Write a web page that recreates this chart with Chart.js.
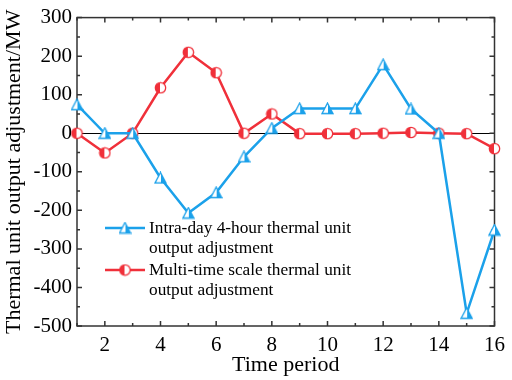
<!DOCTYPE html>
<html lang="en">
<head>
<meta charset="UTF-8">
<title>Thermal unit output adjustment</title>
<script src="https://cdn.jsdelivr.net/npm/chart.js"></script>
<style>
  html, body { margin: 0; padding: 0; background: #fff; }
  #wrap { width: 512px; height: 380px; }
</style>
</head>
<body>
<div id="wrap"><canvas id="chart" width="512" height="380"></canvas></div>
<script>
// data
const periods = [1, 2, 3, 4, 5, 6, 7, 8, 9, 10, 11, 12, 13, 14, 15, 16];
const intraDay = [74, 0, 0, -116, -207, -154, -61, 13, 64, 64, 64, 178, 63, 0, -467, -251];
const multiScale = [0, -51, 0, 118, 210, 157, 0, 50, -1, -1, -1, 0, 2, 0, -1, -40];
const seriesNames = [
  ["Intra-day 4-hour thermal unit", "output adjustment"],
  ["Multi-time scale thermal unit", "output adjustment"]
];
const xTicks = [2, 4, 6, 8, 10, 12, 14, 16];
const yTicks = [-500, -400, -300, -200, -100, 0, 100, 200, 300];

const BLUE = "#1ba1ea";
const RED = "#f0303a";
const FONT = "'Liberation Serif', 'Times New Roman', serif";

// half filled markers (triangle: right half, circle: left half)
function makeMarker(shape, color) {
  const c = document.createElement("canvas");
  c.width = 13; c.height = 13;
  const g = c.getContext("2d");
  g.beginPath();
  if (shape === "tri") {
    g.moveTo(6.5, 1); g.lineTo(12, 11.5); g.lineTo(1, 11.5); g.closePath();
  } else {
    g.arc(6.5, 6.5, 5.2, 0, Math.PI * 2);
  }
  g.fillStyle = "#fff";
  g.fill();
  g.save();
  g.clip();
  g.fillStyle = color;
  if (shape === "tri") g.fillRect(7, 0, 7, 13);
  else g.fillRect(0, 0, 6, 13);
  g.restore();
  g.lineWidth = 1.3;
  g.strokeStyle = color;
  g.stroke();
  return c;
}
const triMarker = makeMarker("tri", BLUE);
const dotMarker = makeMarker("dot", RED);

// frame, inward ticks, zero line, legend
const framePlugin = {
  id: "frame",
  beforeDatasetsDraw(chart) {
    const { ctx, chartArea: a, scales: { x, y } } = chart;
    ctx.save();
    ctx.strokeStyle = "#000";
    ctx.lineWidth = 1;
    const y0 = Math.round(y.getPixelForValue(0)) + 0.5;
    ctx.beginPath();
    ctx.moveTo(a.left, y0); ctx.lineTo(a.right, y0);
    ctx.stroke();

    ctx.strokeStyle = "#333";
    ctx.lineWidth = 1.5;
    ctx.strokeRect(a.left, a.top, a.right - a.left, a.bottom - a.top);
    ctx.beginPath();
    for (let v = 1; v <= 16; v++) {
      const px = x.getPixelForValue(v);
      const len = v % 2 === 0 ? 5 : 3;
      ctx.moveTo(px, a.bottom); ctx.lineTo(px, a.bottom - len);
      ctx.moveTo(px, a.top); ctx.lineTo(px, a.top + len);
    }
    for (let v = -500; v <= 300; v += 50) {
      const py = y.getPixelForValue(v);
      const len = v % 100 === 0 ? 5 : 3;
      ctx.moveTo(a.left, py); ctx.lineTo(a.left + len, py);
      ctx.moveTo(a.right, py); ctx.lineTo(a.right - len, py);
    }
    ctx.stroke();
    ctx.restore();
  },
  afterDraw(chart) {
    const ctx = chart.ctx;
    ctx.save();
    const rows = [228, 270];
    chart.data.datasets.forEach((ds, i) => {
      const ly = rows[i];
      ctx.strokeStyle = ds.borderColor;
      ctx.lineWidth = 2.5;
      ctx.beginPath();
      ctx.moveTo(105, ly); ctx.lineTo(145, ly);
      ctx.stroke();
      ctx.drawImage(ds.pointStyle, 118.5, ly - 6.5);
      ctx.fillStyle = "#000";
      ctx.font = "17.3px " + FONT;
      ctx.textBaseline = "middle";
      ctx.textAlign = "left";
      seriesNames[i].forEach((t, k) => ctx.fillText(t, 149, ly + k * 20.5));
    });
    ctx.restore();
  }
};

new Chart(document.getElementById("chart"), {
  type: "line",
  data: {
    labels: periods,
    datasets: [
      {
        label: seriesNames[0].join(" "),
        data: periods.map((p, i) => ({ x: p, y: intraDay[i] })),
        borderColor: BLUE,
        backgroundColor: BLUE,
        borderWidth: 2.5,
        pointStyle: triMarker,
        pointRadius: 6,
        tension: 0,
        clip: false
      },
      {
        label: seriesNames[1].join(" "),
        data: periods.map((p, i) => ({ x: p, y: multiScale[i] })),
        borderColor: RED,
        backgroundColor: RED,
        borderWidth: 2.5,
        pointStyle: dotMarker,
        pointRadius: 6,
        tension: 0,
        clip: false
      }
    ]
  },
  options: {
    responsive: false,
    animation: false,
    layout: { padding: { top: 15, right: 12, left: 0, bottom: 0 } },
    plugins: { legend: { display: false }, tooltip: { enabled: false } },
    scales: {
      x: {
        type: "linear",
        min: 1,
        max: 16,
        afterBuildTicks: s => { s.ticks = xTicks.map(v => ({ value: v })); },
        afterFit: s => { s.height = 54; },
        grid: { display: false, drawTicks: false },
        border: { display: false },
        ticks: { color: "#000", font: { family: FONT, size: 21 }, padding: 7 },
        title: {
          display: true,
          text: "Time period",
          color: "#000",
          font: { family: FONT, size: 22 },
          padding: { top: 0, bottom: 2 }
        }
      },
      y: {
        min: -500,
        max: 300,
        afterBuildTicks: s => { s.ticks = yTicks.map(v => ({ value: v })); },
        afterFit: s => { s.width = 77; },
        grid: { display: false, drawTicks: false },
        border: { display: false },
        ticks: { color: "#000", font: { family: FONT, size: 21 }, padding: 5 },
        title: {
          display: true,
          text: "Thermal unit output adjustment/MW",
          color: "#000",
          font: { family: FONT, size: 22 },
          padding: { top: 1, bottom: 0 }
        }
      }
    }
  },
  plugins: [framePlugin]
});
</script>
</body>
</html>
